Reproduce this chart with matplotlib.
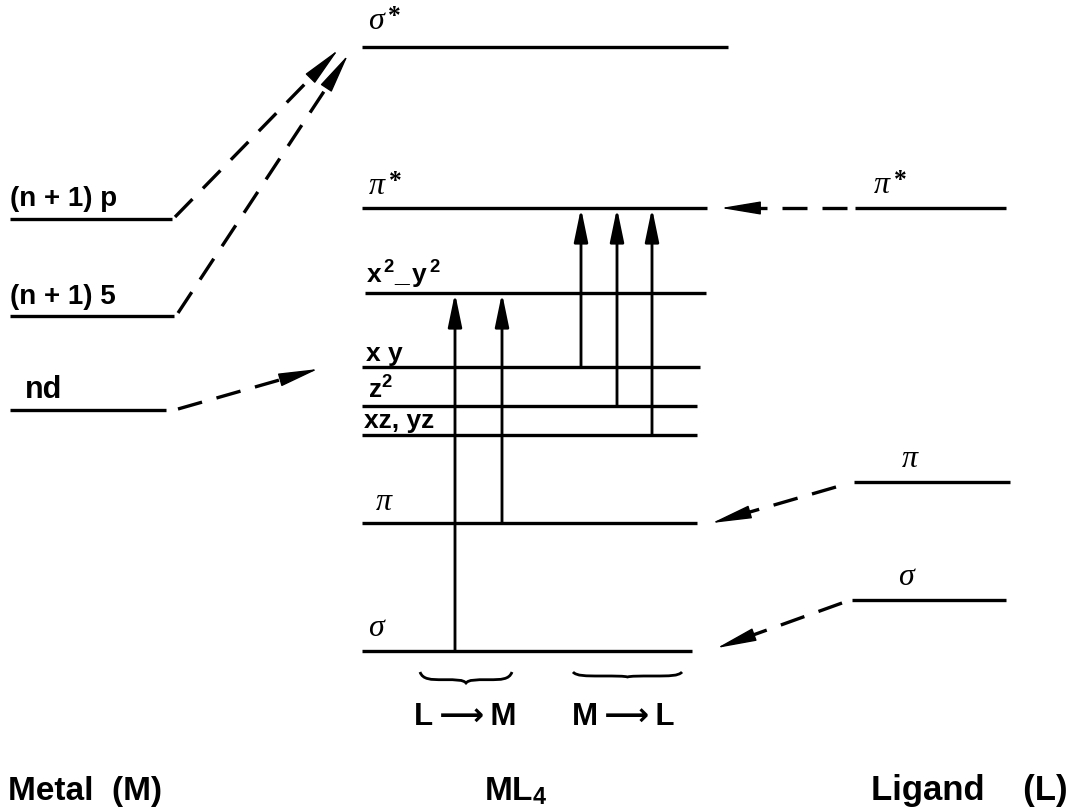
import matplotlib
matplotlib.use('Agg')
import matplotlib.pyplot as plt
from matplotlib.path import Path
from matplotlib.patches import PathPatch
import numpy as np

plt.rcParams['mathtext.fontset'] = 'custom'
plt.rcParams['mathtext.rm'] = 'Liberation Sans:bold'
plt.rcParams['mathtext.bf'] = 'Liberation Sans:bold'
plt.rcParams['mathtext.it'] = 'Liberation Serif:italic'

# ---------------- data (energies in arbitrary units) ----------------
metal_labels = ['(n + 1) p', '(n + 1) 5', 'nd']
metal_energy = [5.88, 4.91, 3.97]

ml4_labels = ['σ*', 'π*', 'x2-y2', 'xy', 'z2', 'xz,yz', 'π', 'σ']
ml4_energy = [7.60, 5.99, 5.14, 4.40, 4.01, 3.72, 2.84, 1.56]

ligand_labels = ['π*', 'π', 'σ']
ligand_energy = [5.99, 3.25, 2.07]

lm_transitions = [('σ', 'x2-y2'), ('π', 'x2-y2')]
ml_transitions = [('xy', 'π*'), ('z2', 'π*'), ('xz,yz', 'π*')]

column_titles = ['Metal  (M)', r'ML$_4$', 'Ligand    (L)']
transition_titles = ['L\u2009⟶\u2009M', 'M\u2009⟶\u2009L']

# ---------------- layout ----------------
SANS = ['Liberation Sans', 'DejaVu Sans']
SERIF = ['Liberation Serif', 'DejaVu Serif']
LW = 2.4

fig = plt.figure(figsize=(10.71, 8.07), dpi=100)
ax = fig.add_axes([0, 0, 1, 1])
ax.set_xlim(0, 1071)
ax.set_ylim(0, 8.07)
ax.axis('off')

E = dict(zip(ml4_labels, ml4_energy))
EM = dict(zip(metal_labels, metal_energy))
EL = dict(zip(ligand_labels, ligand_energy))


def px(y):
    return (807 - y) / 100.0


def level(x0, x1, e):
    ax.plot([x0, x1], [e, e], color='black', lw=LW, solid_capstyle='butt')


def greek_label(x, e, ch, star, dy, fs=23):
    ax.annotate(ch, xy=(x, e), xytext=(0, dy), textcoords='offset points',
                ha='left', va='baseline', fontsize=fs, family=SERIF,
                style='italic')
    if star:
        ax.annotate('*', xy=(x, e), xytext=(fs * 0.62, dy + fs * 0.18),
                    textcoords='offset points', ha='left', va='baseline',
                    fontsize=fs * 0.8, family=SERIF, fontweight='bold')


def sans_label(x, e, s, dy, fs=18):
    ax.annotate(s, xy=(x, e), xytext=(0, dy), textcoords='offset points',
                ha='left', va='baseline', fontsize=fs, family=SANS,
                fontweight='bold')


# Metal column
metal_x = [(10, 172), (10, 174), (10, 166)]
metal_tx = [10, 10, 25]
metal_fs = [20, 20, 22]
for (x0, x1), tx, fs, lab, e in zip(metal_x, metal_tx, metal_fs, metal_labels, metal_energy):
    level(x0, x1, e)
    sans_label(tx, e, lab, 9, fs=fs)

# ML4 column
ml4_x = {'σ*': (362, 728), 'π*': (362, 707), 'x2-y2': (365, 706),
         'xy': (362, 700), 'z2': (362, 697), 'xz,yz': (362, 697),
         'π': (362, 697), 'σ': (362, 692)}
for lab in ml4_labels:
    x0, x1 = ml4_x[lab]
    level(x0, x1, E[lab])

greek_label(368, E['σ*'], 'σ', True, 13)
greek_label(369, E['π*'], 'π', True, 10)
sans_label(366, E['x2-y2'], r'$\mathregular{x^{\,2}\_\,y^{\,2}}$', 7, fs=19)
sans_label(366, E['xy'], 'x y', 4.5, fs=19)
sans_label(368, E['z2'], r'$\mathregular{z^{2}}$', 5, fs=19)
sans_label(364, E['xz,yz'], 'xz, yz', 5, fs=19)
greek_label(376, E['π'], 'π', False, 9)
greek_label(368, E['σ'], 'σ', False, 11)

# Ligand column
lig_x = [(855, 1006), (854, 1010), (852, 1006)]
lig_tx = [874, 902, 898]
for (x0, x1), tx, lab, e in zip(lig_x, lig_tx, ligand_labels, ligand_energy):
    level(x0, x1, e)
    greek_label(tx, e, lab[0], lab.endswith('*'), 11)


# ---------------- arrows ----------------
def solid_arrow(x, e0, e1):
    ax.annotate('', xy=(x, e1), xytext=(x, e0),
                arrowprops=dict(arrowstyle='-|>,head_length=1.45,head_width=0.3',
                                lw=LW * 0.85, color='black', shrinkA=0, shrinkB=0,
                                mutation_scale=14))


lm_x = [455, 502]
for x, (a, b) in zip(lm_x, lm_transitions):
    solid_arrow(x, E[a], E[b])
ml_x = [581, 617, 652]
for x, (a, b) in zip(ml_x, ml_transitions):
    solid_arrow(x, E[a], E[b])


def dashed_arrow(p0, p1):
    x0, y0 = p0
    x1, y1 = p1
    P0 = np.array([x0, 807 - y0 * 100])
    P1 = np.array([x1, 807 - y1 * 100])
    d = P1 - P0
    u = d / np.hypot(*d)
    hb = P1 - u * 22
    ax.plot([P0[0], hb[0]], [px(P0[1]), px(hb[1])], color='black', lw=LW,
            dashes=(7.5, 4.5), dash_capstyle='butt')
    back = P1 - u * 26
    ax.annotate('', xy=(P1[0], px(P1[1])), xytext=(back[0], px(back[1])),
                arrowprops=dict(arrowstyle='-|>,head_length=1.8,head_width=0.3',
                                lw=1, color='black', shrinkA=0, shrinkB=0,
                                mutation_scale=14))


dashed_arrow((175, EM['(n + 1) p'] + 0.02), (338, px(50)))
dashed_arrow((178, EM['(n + 1) 5'] + 0.03), (348, px(55)))
dashed_arrow((178, EM['nd'] + 0.01), (318, px(369)))
dashed_arrow((847, EL['π*']), (721, E['π*']))
dashed_arrow((836, EL['π'] - 0.05), (712, E['π']))
dashed_arrow((842, EL['σ'] - 0.03), (717, E['σ'] + 0.03))


# ---------------- braces ----------------
def brace(x0, x1, y0, depth, flat=0.7):
    w = x1 - x0
    xm = (x0 + x1) / 2
    ym = y0 - depth * flat
    verts = [(x0, y0), (x0 + 0.03 * w, ym), (x0 + 0.12 * w, ym), (x0 + 0.25 * w, ym),
             (x0 + 0.40 * w, ym), (xm - 0.03 * w, ym), (xm, y0 - depth),
             (xm + 0.03 * w, ym), (x1 - 0.40 * w, ym), (x1 - 0.25 * w, ym),
             (x1 - 0.12 * w, ym), (x1 - 0.03 * w, ym), (x1, y0)]
    codes = [Path.MOVETO] + [Path.CURVE4] * 12
    ax.add_patch(PathPatch(Path(verts, codes), fill=False, lw=2.0, color='black'))


brace(420, 512, px(672), 0.11)
brace(573, 682, px(672), 0.05, flat=0.8)

# ---------------- titles ----------------
ax.text(465, px(725), transition_titles[0], ha='center', va='baseline',
        fontsize=22.5, family=SANS, fontweight='bold')
ax.text(623, px(725), transition_titles[1], ha='center', va='baseline',
        fontsize=22.5, family=SANS, fontweight='bold')

ax.text(8, px(800), column_titles[0], ha='left', va='baseline', fontsize=24,
        family=SANS, fontweight='bold')
ax.text(484, px(800), column_titles[1], ha='left', va='baseline', fontsize=24,
        family=SANS, fontweight='bold')
ax.text(1068, px(800), column_titles[2], ha='right', va='baseline', fontsize=25,
        family=SANS, fontweight='bold')

fig.savefig('out.png', dpi=100)
